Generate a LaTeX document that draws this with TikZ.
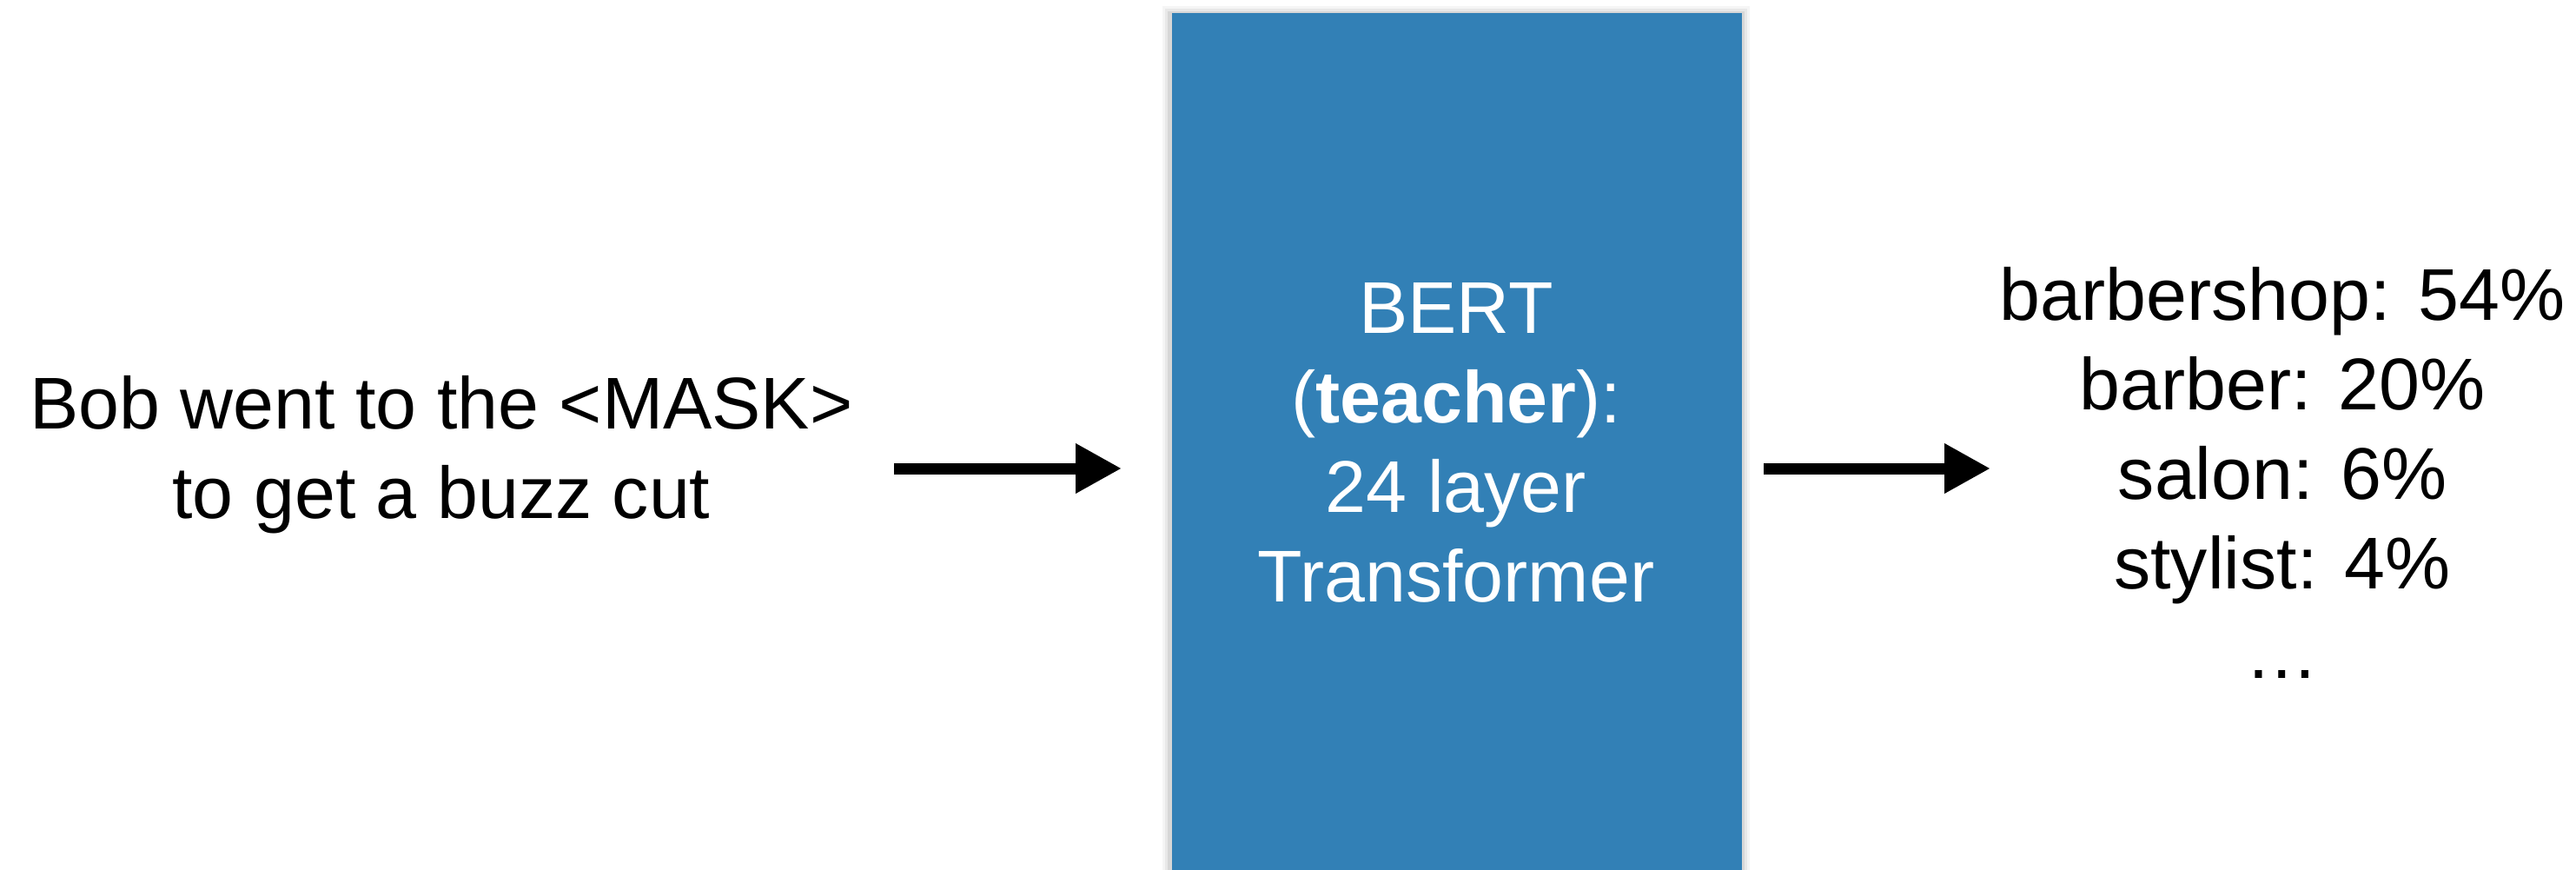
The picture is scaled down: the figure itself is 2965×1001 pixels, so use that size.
\documentclass[tikz,border=0pt]{standalone}
\usepackage{fontspec}
\setmainfont{Liberation Sans}
\usetikzlibrary{arrows.meta}
\definecolor{bertblue}{RGB}{50,128,182}
\tikzset{
  txt/.style={font=\fontsize{24}{29.3}\selectfont, align=center, anchor=base, inner sep=0pt},
  flowarrow/.style={line width=1.3mm, -{Triangle[length=5.3mm,width=5.4mm]}},
  bertbox/.style={fill=bertblue, draw=none}
}
\begin{document}
\begin{tikzpicture}[x=0.1mm,y=-0.1mm]
\useasboundingbox (0,0) rectangle (2965,1001);
\fill[white] (0,0) rectangle (2965,1001);
% soft shadow
\foreach \s/\o in {10/0.04,7/0.05,4/0.07}{
  \fill[black,opacity=\o] (1348-\s,14-\s+3) rectangle (2004+\s,1001);
}
\node[bertbox, minimum width=65.6mm, minimum height=100mm, anchor=north west, inner sep=0pt] (bert) at (1348,14) {};
\node[txt, text=white] (bertlbl) at (1676,692) {BERT\\(\textbf{teacher}):\\24 layer\\Transformer};
\node[txt] (input) at (508,596) {Bob went to the <MASK>\\to get a buzz cut};
\node[txt] (output) at (2627,780) {barbershop: 54\%\\barber: 20\%\\salon: 6\%\\stylist: 4\%\\\ldots};
\coordinate (a1s) at (1029,539);
\coordinate (a1e) at (1291,539);
\coordinate (a2s) at (2030,539);
\coordinate (a2e) at (2291,539);
\draw[flowarrow] (a1s) -- (a1e);
\draw[flowarrow] (a2s) -- (a2e);
\end{tikzpicture}
\end{document}
